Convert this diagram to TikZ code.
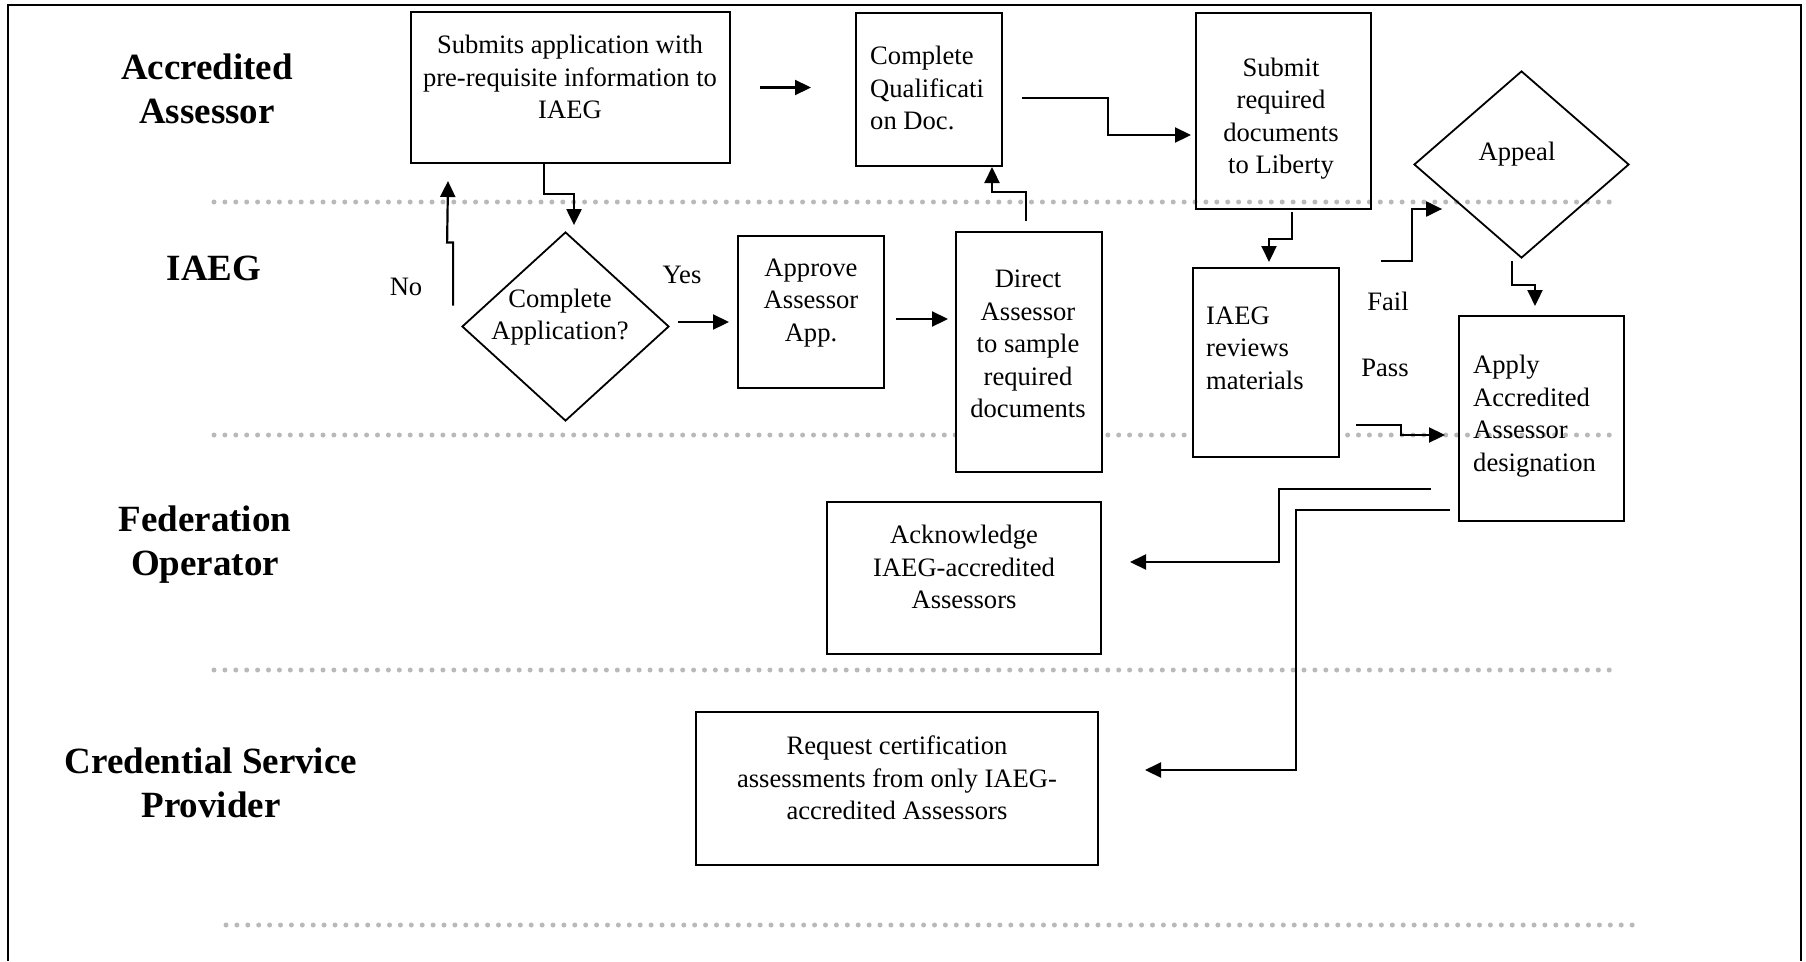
\documentclass[tikz,border=0pt]{standalone}
\usepackage{fontspec}
\setmainfont{Liberation Serif}
\usetikzlibrary{arrows.meta,shapes.geometric}
\definecolor{dotgray}{RGB}{185,185,185}
\tikzset{
  box/.style={draw, rectangle, line width=2pt, inner sep=0pt},
  whitebox/.style={box, fill=white},
  dia/.style={draw, diamond, line width=1.8pt, inner sep=0pt},
  txt/.style={font=\fontsize{26.6}{32.5}\selectfont, align=center, inner sep=0pt},
  ltxt/.style={txt, align=left, anchor=west},
  lane/.style={font=\bfseries\fontsize{37}{44}\selectfont, align=center, inner sep=0pt},
  arr/.style={line width=2.2pt, -{Triangle[length=16pt,width=15pt]}},
  sep/.style={dotgray, line width=5pt, line cap=round, dash pattern=on 0pt off 10.9pt},
}
\begin{document}
\begin{tikzpicture}[x=1pt,y=-1pt]
\useasboundingbox (0,0) rectangle (1806,961);
% frame
\draw[line width=2.2pt] (8,961) -- (8,5) -- (1801,5) -- (1801,961);
% lane separators
\draw[sep] (214,202) -- (1616,202);
\draw[sep] (214,435) -- (1616,435);
\draw[sep] (214,670) -- (1616,670);
\draw[sep] (226,925) -- (1638,925);
% lane labels
\node[lane] (lAA) at (207,89) {Accredited\\Assessor};
\node[lane] (lIAEG) at (214,268) {IAEG};
\node[lane] (lFO) at (205,545) {Federation\\Operator};
\node[lane] (lCSP) at (211,783) {Credential Service\\Provider};
% boxes
\node[box, minimum width=319pt, minimum height=151pt] (A) at (570.5,87.5) {};
\node[box, minimum width=146pt, minimum height=153pt] (B) at (929,89.5) {};
\node[box, minimum width=175pt, minimum height=196pt] (C) at (1283.5,111) {};
\node[dia, minimum width=215pt, minimum height=187pt] (Appeal) at (1521.5,164.5) {};
\node[dia, minimum width=207pt, minimum height=189pt] (D1) at (565.5,326.5) {};
\node[box, minimum width=146pt, minimum height=152pt] (Approve) at (811,312) {};
\node[whitebox, minimum width=146pt, minimum height=240pt] (Direct) at (1029,352) {};
\node[whitebox, minimum width=146pt, minimum height=189pt] (IAEG) at (1266,362.5) {};
\node[box, minimum width=165pt, minimum height=205pt] (Apply) at (1541.5,418.5) {};
\node[box, minimum width=274pt, minimum height=152pt] (Ack) at (964,578) {};
\node[box, minimum width=402pt, minimum height=153pt] (Req) at (897,788.5) {};
% texts
\node[txt] (tA) at (570,77) {Submits application with\\pre-requisite information to\\IAEG};
\node[ltxt] (tB) at (870,88) {Complete\\Qualificati\\on Doc.};
\node[txt] (tC) at (1281,118.5) {Submit\\required\\documents\\to Liberty};
\node[txt] (tAppeal) at (1517,154) {Appeal};
\node[txt] (tD1) at (560,317) {Complete\\Application?};
\node[txt] (tApprove) at (811,303) {Approve\\Assessor\\App.};
\node[txt] (tDirect) at (1028,344) {Direct\\Assessor\\to sample\\required\\documents};
\node[ltxt] (tIAEG) at (1206,348) {IAEG\\reviews\\materials};
\node[ltxt] (tApply) at (1473,416) {Apply\\Accredited\\Assessor\\designation};
\node[txt] (tAck) at (964,567) {Acknowledge\\IAEG-accredited\\Assessors};
\node[txt] (tReq) at (897,778) {Request certification\\assessments from only IAEG-\\accredited Assessors};
% connector labels
\node[txt] (lNo) at (406,287) {No};
\node[txt] (lYes) at (682,275) {Yes};
\node[txt] (lFail) at (1388,301) {Fail};
\node[txt] (lPass) at (1385,368) {Pass};
% free ends
\coordinate (nostart) at ([shift={(-8,-21)}]D1.west);
\coordinate (failstart) at (1381,261);
\coordinate (passstart) at (1356,425);
% connectors
\draw[arr, shorten <=29pt, shorten >=44pt] (A.east) -- (A.east -| B.west);
\draw[arr] ([shift={(19,8.5)}]B.east) -- ++(86,0) |- ([shift={(-4,24)}]C.west);
\draw[arr] ([shift={(-26.5,0)}]A.south) -- ++(0,30) -- ++(30,0) -- ([shift={(8.5,-6)}]D1.north);
\draw[arr] (nostart) -- ++(0,-63) -- ++(-6,0) -- ([shift={(-122.5,17)}]A.south);
\draw[arr] ([shift={(8,-4.5)}]D1.east) -- ([shift={(-8,10)}]Approve.west);
\draw[arr] ([shift={(11,7)}]Approve.east) -- ([shift={(-7,-33)}]Direct.west);
\draw[arr] ([shift={(-3,-10)}]Direct.north) -- ++(0,-29) -- ++(-34,0) -- ([shift={(63,0)}]B.south);
\draw[arr] ([shift={(8.5,2)}]C.south) -- ++(0,27) -- ++(-23,0) -- ([shift={(3,-5)}]IAEG.north);
\draw[arr] (failstart) -- ++(31,0) |- ([shift={(29,44.5)}]Appeal.west);
\draw[arr] ([shift={(-9.5,2)}]Appeal.south) -- ++(0,24) -| ([shift={(-6.5,-9)}]Apply.north);
\draw[arr] (passstart) -- ++(45,0) |- ([shift={(-13,16.5)}]Apply.west);
\draw[arr] ([shift={(-27,70.5)}]Apply.west) -- ++(-152,0) |- ([shift={(28,-16)}]Ack.east);
\draw[arr] ([shift={(-8,91.5)}]Apply.west) -- ++(-154,0) |- ([shift={(46,-18.5)}]Req.east);
\end{tikzpicture}
\end{document}
